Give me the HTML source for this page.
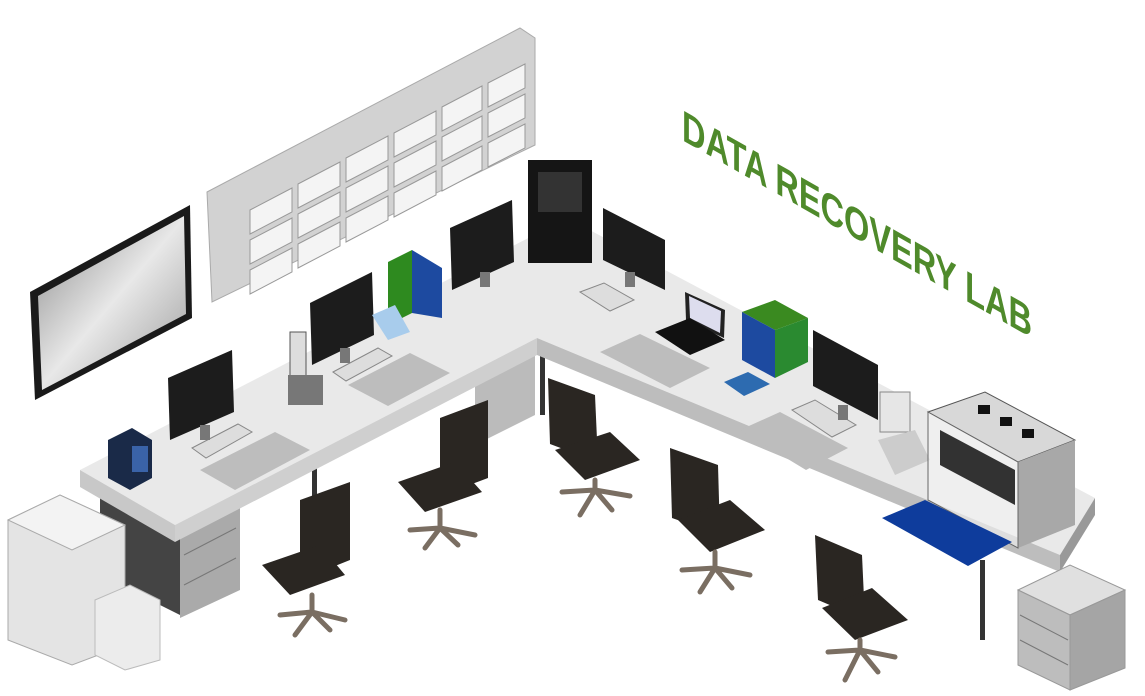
<!DOCTYPE html>
<html><head><meta charset="utf-8"><style>html,body{margin:0;padding:0;background:#fff}svg{display:block}</style></head>
<body>
<svg width="1145" height="696" viewBox="0 0 1145 696" xmlns="http://www.w3.org/2000/svg">
<defs>
<linearGradient id="scr" x1="0" y1="0" x2="1" y2="1"><stop offset="0" stop-color="#888"/><stop offset="0.5" stop-color="#e8e8e8"/><stop offset="1" stop-color="#999"/></linearGradient>
</defs>
<polygon points="30,292 190,205 192,318 35,400" fill="#1a1a1a"/>
<polygon points="38,296 184,216 186,314 42,390" fill="url(#scr)"/>
<polygon points="207,192 520,28 535,38 535,145 212,302" fill="#d2d2d2" stroke="#aaa"/>
<g fill="#f4f4f4" stroke="#999" stroke-width="1">
<polygon points="250,210 292,188 292,212 250,234"/><polygon points="298,184 340,162 340,186 298,208"/><polygon points="346,158 388,136 388,160 346,182"/><polygon points="394,133 436,111 436,135 394,157"/><polygon points="442,107 482,86 482,110 442,131"/><polygon points="488,83 525,64 525,88 488,107"/>
<polygon points="250,240 292,218 292,242 250,264"/><polygon points="298,214 340,192 340,216 298,238"/><polygon points="346,188 388,166 388,190 346,212"/><polygon points="394,163 436,141 436,165 394,187"/><polygon points="442,137 482,116 482,140 442,161"/><polygon points="488,113 525,94 525,118 488,137"/>
<polygon points="250,270 292,248 292,272 250,294"/><polygon points="298,244 340,222 340,246 298,268"/><polygon points="346,218 388,196 388,220 346,242"/><polygon points="394,193 436,171 436,195 394,217"/><polygon points="442,167 482,146 482,170 442,191"/><polygon points="488,143 525,124 525,148 488,167"/>
</g>
<g transform="translate(682,140) skewY(29.5)"><text x="0" y="0" font-family="Liberation Sans, sans-serif" font-weight="bold" font-size="44" fill="#4f8a2b" textLength="350" lengthAdjust="spacingAndGlyphs">DATA RECOVERY LAB</text></g>
<polygon points="180,530 240,500 240,590 180,618" fill="#aaa"/>
<g stroke="#777" fill="none"><path d="M184,555 L236,528 M184,585 L236,558"/></g>
<polygon points="475,380 535,350 535,415 475,445" fill="#bbb"/>
<polygon points="100,492 180,538 180,615 100,575" fill="#444"/>
<rect x="312" y="465" width="5" height="40" fill="#333"/><rect x="540" y="355" width="5" height="60" fill="#333"/>
<rect x="980" y="560" width="5" height="80" fill="#333"/>
<polygon points="80,470 567,218 1095,498 1060,555 537,338 175,525" fill="#e9e9e9"/>
<polygon points="80,470 175,525 175,542 80,487" fill="#c8c8c8"/>
<polygon points="175,525 537,338 537,355 175,542" fill="#cfcfcf"/>
<polygon points="537,338 1060,555 1060,572 537,355" fill="#bdbdbd"/>
<polygon points="1060,555 1095,498 1095,515 1060,572" fill="#999"/>
<g fill="#bdbdbd"><polygon points="200,470 275,432 310,450 235,490"/><polygon points="348,385 410,353 450,373 388,406"/><polygon points="600,352 640,334 710,368 670,388"/><polygon points="740,430 780,412 848,448 806,470"/></g>
<g fill="#ddd" stroke="#888"><polygon points="192,448 238,424 252,432 206,458"/><polygon points="333,372 378,348 392,356 346,381"/><polygon points="580,292 604,283 634,300 610,311"/><polygon points="792,410 815,400 856,425 832,437"/></g>
<g fill="#1c1c1c">
<polygon points="168,378 232,350 234,412 170,440"/><polygon points="310,303 372,272 374,335 312,365"/><polygon points="450,228 512,200 514,262 452,290"/>
<polygon points="603,208 665,240 665,290 603,260"/><polygon points="813,330 878,365 878,420 813,386"/>
</g>
<g fill="#777"><rect x="200" y="425" width="10" height="15"/><rect x="340" y="348" width="10" height="15"/><rect x="480" y="272" width="10" height="15"/><rect x="625" y="272" width="10" height="15"/><rect x="838" y="405" width="10" height="15"/></g>
<rect x="528" y="160" width="64" height="103" fill="#151515"/>
<rect x="538" y="172" width="44" height="40" fill="#333"/>
<polygon points="388,262 412,250 412,313 388,325" fill="#2e8a1f"/>
<polygon points="412,250 442,268 442,318 412,313" fill="#1d4aa0"/>
<polygon points="372,315 395,305 410,332 388,340" fill="#a8ccec"/>
<rect x="290" y="332" width="16" height="46" fill="#ddd" stroke="#555"/>
<rect x="288" y="375" width="35" height="30" fill="#777"/>
<polygon points="108,440 132,428 152,440 152,478 130,490 108,478" fill="#1a2a48"/>
<rect x="132" y="446" width="16" height="26" fill="#3a63a8"/>
<polygon points="685,292 725,310 724,338 686,320" fill="#222"/><polygon points="689,296 721,311 720,333 690,318" fill="#dde"/>
<polygon points="655,332 690,318 725,340 690,355" fill="#111"/>
<polygon points="742,312 775,300 808,318 775,330" fill="#3a8a20"/>
<polygon points="742,312 775,330 775,378 742,360" fill="#1d4aa0"/><polygon points="775,330 808,318 808,362 775,378" fill="#2a8a30"/>
<polygon points="724,382 748,372 770,384 744,396" fill="#2d6bb0"/>
<rect x="880" y="392" width="30" height="40" fill="#e6e6e6" stroke="#888"/>
<polygon points="878,440 915,430 930,460 895,475" fill="#ccc"/>
<polygon points="928,412 985,392 1075,440 1018,462" fill="#d8d8d8" stroke="#555"/>
<polygon points="1018,462 1075,440 1075,525 1018,548" fill="#a8a8a8"/>
<polygon points="928,412 1018,462 1018,548 928,500" fill="#f3f3f3" stroke="#666" fill-opacity="0.6"/>
<polygon points="940,430 1015,470 1015,505 940,465" fill="#111" opacity="0.85"/>
<g fill="#111"><rect x="978" y="405" width="12" height="9"/><rect x="1000" y="417" width="12" height="9"/><rect x="1022" y="429" width="12" height="9"/></g>
<polygon points="882,518 925,500 1012,542 968,566" fill="#0e3c9c"/>
<g fill="#2a2622">
<polygon points="300,500 350,482 350,560 300,580"/><polygon points="262,565 320,545 345,575 290,595"/>
<polygon points="440,418 488,400 488,478 440,496"/><polygon points="398,482 455,462 482,492 425,512"/>
<polygon points="548,378 595,395 598,462 550,444"/><polygon points="555,450 610,432 640,460 585,480"/>
<polygon points="670,448 718,465 720,535 672,518"/><polygon points="678,520 730,500 765,530 710,552"/>
<polygon points="815,535 862,555 865,620 818,600"/><polygon points="822,608 872,588 908,620 855,640"/>
</g>
<g stroke="#7a6e62" stroke-width="5" stroke-linecap="round">
<path d="M312,595 V612 M312,612 L280,615 M312,612 L345,620 M312,612 L295,635 M312,612 L330,630"/>
<path d="M440,510 V528 M440,528 L410,530 M440,528 L475,535 M440,528 L425,548 M440,528 L458,545"/>
<path d="M595,480 V490 M595,490 L562,492 M595,490 L630,496 M595,490 L580,515 M595,490 L612,510"/>
<path d="M715,552 V568 M715,568 L682,570 M715,568 L750,575 M715,568 L700,592 M715,568 L732,588"/>
<path d="M860,640 V650 M860,650 L828,652 M860,650 L895,657 M860,650 L845,680 M860,650 L878,672"/>
</g>
<polygon points="8,520 60,495 125,525 125,645 72,665 8,640" fill="#e4e4e4" stroke="#aaa"/>
<polygon points="8,520 60,495 125,525 72,550" fill="#f3f3f3" stroke="#aaa"/>
<polygon points="95,600 130,585 160,600 160,660 125,670 95,655" fill="#ececec" stroke="#bbb"/>
<polygon points="1018,590 1070,565 1125,590 1070,615" fill="#e0e0e0" stroke="#999"/>
<polygon points="1018,590 1070,615 1070,690 1018,665" fill="#bdbdbd" stroke="#999"/>
<polygon points="1070,615 1125,590 1125,668 1070,690" fill="#a5a5a5" stroke="#999"/>
<g stroke="#777" fill="none"><path d="M1020,615 L1068,640 M1020,640 L1068,665"/></g>
</svg>
</body></html>
